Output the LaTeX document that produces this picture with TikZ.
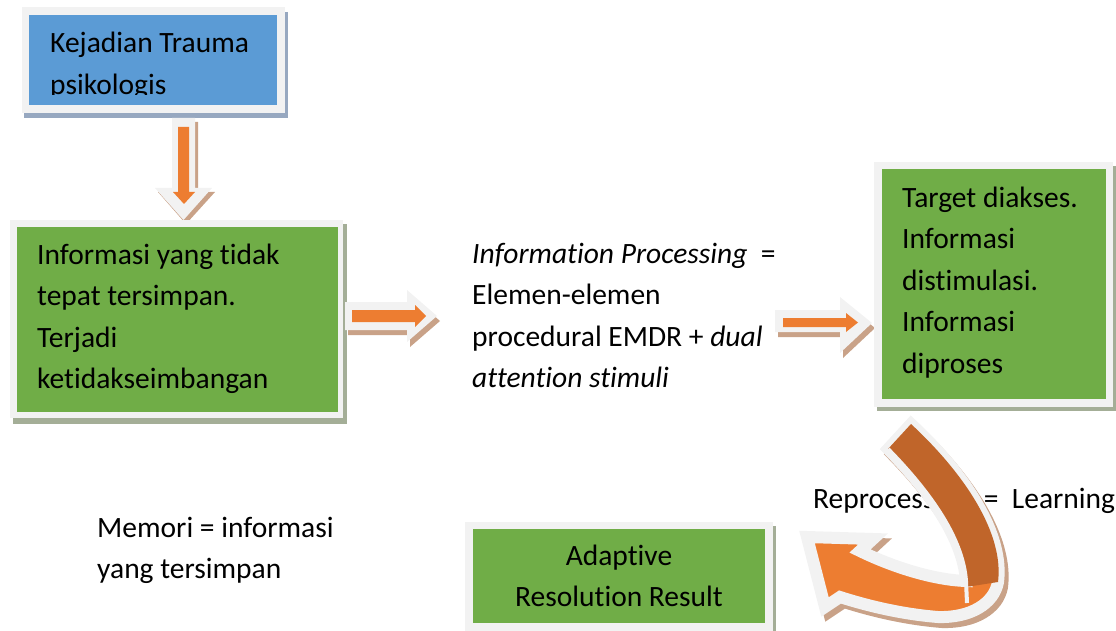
\documentclass[tikz,border=0pt]{standalone}
\usepackage{fontspec}
\setmainfont{Carlito}[Ligatures=NoCommon]

\definecolor{boxblue}{HTML}{5B9BD5}
\definecolor{boxgreen}{HTML}{70AD47}
\definecolor{arroworange}{HTML}{ED7D31}
\definecolor{arrowbrown}{HTML}{C0652A}
\definecolor{framegray}{HTML}{F2F2F2}
\definecolor{blueshadow}{HTML}{97A8C0}
\definecolor{greenshadow}{HTML}{A4AE97}
\definecolor{arrowshadow}{HTML}{C9A288}

\tikzset{
  bodytext/.style={inner sep=0pt, align=left, anchor=base west,
    font=\fontsize{29.5}{41.5}\selectfont},
  centertext/.style={bodytext, align=center, anchor=base},
  arrowrim/.style={draw=framegray, fill=arroworange, line width=12pt, line join=miter},
  rimshadow/.style={draw=arrowshadow, fill=arrowshadow, line width=12pt, line join=miter,
    shift={(4,5)}},
}

\begin{document}
\begin{tikzpicture}[x=1pt,y=-1pt]
\useasboundingbox (0,0) rectangle (1116,631);

% top box
\fill[blueshadow] (24,12) rectangle (288,118);
\fill[framegray] (22,7) rectangle (285,113);
\fill[boxblue] (29,15) rectangle (277,105);
\begin{scope}
\clip (29,15) rectangle (277,95);
\node[bodytext] (event) at (50,94.5) {Kejadian Trauma\\psikologis};
\end{scope}

% down arrow
\fill[arrowshadow] (175,122) -- (198,122) -- (198,192) -- (215,192) -- (186,224) -- (158,192) -- (175,192) -- cycle;
\fill[framegray] (172,118) -- (195,118) -- (195,188) -- (212,188) -- (183.5,220) -- (155,188) -- (172,188) -- cycle;
\fill[arroworange] (178,127) -- (189,127) -- (189,192) -- (195,192) -- (184,204) -- (173,192) -- (178,192) -- cycle;

% left green box
\fill[greenshadow] (13,224) rectangle (347,424);
\fill[framegray] (10,220) rectangle (343,418);
\fill[boxgreen] (17,227) rectangle (338,412);
\node[bodytext] (stored) at (37,388.5) {Informasi yang tidak\\tepat tersimpan.\\Terjadi\\ketidakseimbangan};

% first right arrow
\fill[arrowshadow] (348,307) -- (410,307) -- (410,295) -- (440,321) -- (410,347) -- (410,335) -- (348,335) -- cycle;
\fill[framegray] (345,302) -- (407,302) -- (407,290) -- (437,316) -- (407,342) -- (407,330) -- (345,330) -- cycle;
\fill[arroworange] (352,310) -- (415,310) -- (415,305) -- (426,316) -- (415,327) -- (415,322) -- (352,322) -- cycle;

% middle text
\node[bodytext] (process) at (472,387.5) {\textit{Information Processing}\ \ =\\Elemen-elemen\\procedural EMDR + \textit{dual}\\\textit{attention stimuli}};

% second right arrow
\fill[arrowshadow] (778,315) -- (843,315) -- (843,302) -- (875,328) -- (843,358) -- (843,337) -- (778,337) -- cycle;
\fill[framegray] (775,310) -- (840,310) -- (840,297) -- (872,323) -- (840,353) -- (840,332) -- (775,332) -- cycle;
\fill[arroworange] (783,318) -- (846,318) -- (846,313) -- (858,322.5) -- (846,332) -- (846,327) -- (783,327) -- cycle;

% right green box
\fill[greenshadow] (877,166) rectangle (1116,411);
\fill[framegray] (874,162) rectangle (1113,407);
\fill[boxgreen] (882,169) rectangle (1106,399);
\node[bodytext] (target) at (902,373) {Target diakses.\\Informasi\\distimulasi.\\Informasi\\diproses};

% loose texts
\node[bodytext] (memory) at (97,578.5) {Memori = informasi\\yang tersimpan};
\node[bodytext] (learn) at (813,508) {Reprocessing\ \ =\ \ Learning};

% bottom box
\fill[greenshadow] (468,526) rectangle (776,631);
\fill[framegray] (465,522) rectangle (773,631);
\fill[boxgreen] (473,529) rectangle (765,623);
\node[centertext] (result) at (619,606.5) {Adaptive\\Resolution Result};

% curved arrow
\path[rimshadow] (807,537) -- (873,539) -- (860,551) .. controls (895,568) and (935,580) .. (966,581)
  .. controls (963,540) and (933,495) .. (888,449) -- (911,424) .. controls (967,476) and (1004,535) .. (998,582)
  .. controls (994,604) and (970,618) .. (938,617) .. controls (900,614) and (865,605) .. (840,597) -- (825,607) -- cycle;
\path[arrowrim] (807,537) -- (873,539) -- (860,551) .. controls (895,568) and (935,580) .. (966,581)
  .. controls (963,540) and (933,495) .. (888,449) -- (911,424) .. controls (967,476) and (1004,535) .. (998,582)
  .. controls (994,604) and (970,618) .. (938,617) .. controls (900,614) and (865,605) .. (840,597) -- (825,607) -- cycle;
\fill[arrowbrown] (888,449) -- (911,424) .. controls (967,476) and (1004,535) .. (998,582)
  -- (966,587) -- (966,581) .. controls (963,540) and (933,495) .. (888,449) -- cycle;
\draw[framegray, line width=4pt] (967,603) -- (966,581) .. controls (963,540) and (933,495) .. (888,449);
\end{tikzpicture}
\end{document}
